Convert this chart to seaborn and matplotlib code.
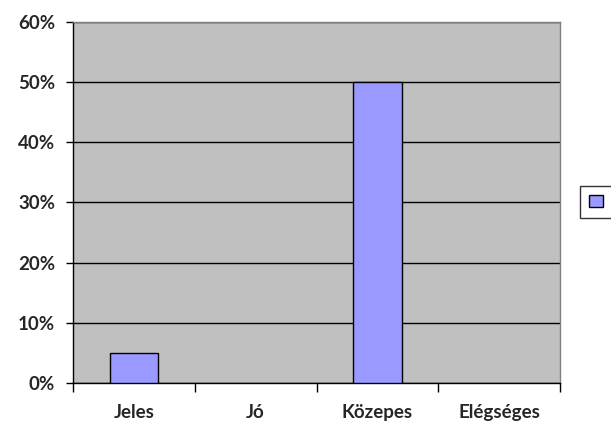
import matplotlib
matplotlib.use("Agg")
import matplotlib.pyplot as plt
import seaborn as sns
import pandas as pd
from matplotlib.patches import Patch
from matplotlib.ticker import FixedLocator, PercentFormatter

# --- adatok ---
categories = ["Jeles", "Jó", "Közepes", "Elégséges"]
values = [0.05, 0.0, 0.50, 0.0]
y_ticks = [0.0, 0.1, 0.2, 0.3, 0.4, 0.5, 0.6]

df = pd.DataFrame({"kategoria": categories, "arany": values})

sns.set_style("white")
plt.rcParams["font.family"] = ["Lato", "DejaVu Sans"]

fig = plt.figure(figsize=(6.11, 4.32), dpi=100)
ax = fig.add_axes([73 / 611, 1 - 383 / 432, (560 - 73) / 611, (383 - 22) / 432])
ax.set_facecolor("#C0C0C0")

sns.barplot(data=df, x="kategoria", y="arany", color="#9999FF", width=0.4,
            edgecolor="black", linewidth=1, saturation=1, ax=ax, zorder=3)
# nulla magasságú oszlopoknál ne látsszon a keret
for p in ax.patches:
    if p.get_height() == 0:
        p.set_linewidth(0)

ax.set_ylim(0, 0.6)
ax.set_xlim(-0.5, len(categories) - 0.5)
ax.set_yticks(y_ticks)
ax.yaxis.set_major_formatter(PercentFormatter(1.0, decimals=0))
ax.grid(axis="y", color="black", linewidth=1, zorder=1)
ax.set_axisbelow(True)

# x tengely: osztásjelek a kategóriahatárokon, feliratok középen
ax.xaxis.set_major_locator(FixedLocator([i - 0.5 for i in range(len(categories) + 1)]))
ax.xaxis.set_minor_locator(FixedLocator(list(range(len(categories)))))
ax.set_xticklabels([""] * (len(categories) + 1))
ax.set_xticklabels(categories, minor=True, fontweight="bold", fontsize=13.5)
ax.tick_params(axis="x", which="major", direction="out", length=6.5, width=1, color="black", bottom=True)
ax.tick_params(axis="x", which="minor", length=0, pad=15)
ax.tick_params(axis="y", direction="out", length=5, width=1, color="black", left=True, pad=8)
for lab in ax.get_yticklabels():
    lab.set_fontweight("bold")
    lab.set_fontsize(13.5)

ax.set_xlabel("")
ax.set_ylabel("")
for side in ["left", "bottom"]:
    ax.spines[side].set_color("black")
    ax.spines[side].set_linewidth(1)
for side in ["top", "right"]:
    ax.spines[side].set_color("#808080")
    ax.spines[side].set_linewidth(1)

# jelmagyarázat (üres felirattal)
handle = Patch(facecolor="#9999FF", edgecolor="black", linewidth=1)
leg = fig.legend([handle], [" "], loc="center left", bbox_to_anchor=(572 / 611, 1 - 202 / 432),
                 frameon=True, fancybox=False, edgecolor="black", handlelength=0.9, handleheight=0.9,
                 borderpad=0.6, handletextpad=0.8, fontsize=11)
leg.get_frame().set_linewidth(1)

fig.savefig("out.png", dpi=100)
